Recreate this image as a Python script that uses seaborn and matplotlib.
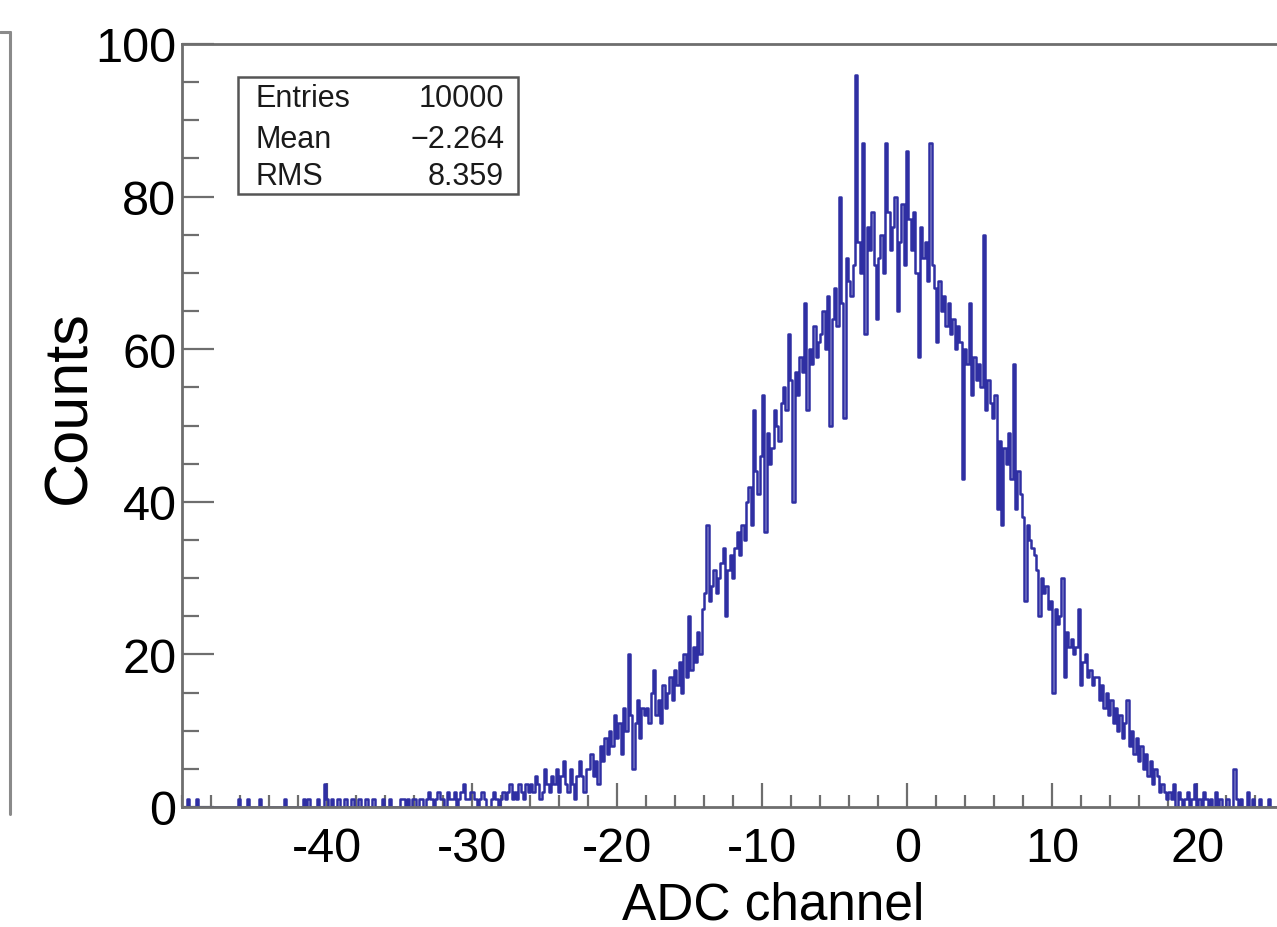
import numpy as np
import pandas as pd
import matplotlib
matplotlib.use("Agg")
import matplotlib.pyplot as plt
from matplotlib.lines import Line2D
from matplotlib.patches import Rectangle
from matplotlib.ticker import MultipleLocator, FixedLocator
import seaborn as sns

# histogram: 0.16-wide bins starting at -50, 25 bins per row (4 ADC units per row)
BIN_START = -50.0
BIN_WIDTH = 0.16
COUNTS_ROWS = [
    [0, 0, 1, 0, 0, 0, 1, 0, 0, 0, 0, 0, 0, 0, 0, 0, 0, 0, 0, 0, 0, 0, 0, 0, 1],      # -50..-46
    [0, 0, 0, 1, 0, 0, 0, 0, 1, 0, 0, 0, 0, 0, 0, 0, 0, 0, 0, 1, 0, 0, 0, 0, 0],      # -46..-42
    [0, 0, 1, 0, 1, 0, 0, 0, 1, 0, 0, 3, 1, 0, 1, 0, 0, 1, 0, 0, 1, 0, 0, 1, 0],      # -42..-38
    [0, 1, 0, 0, 1, 0, 0, 1, 0, 0, 0, 1, 0, 0, 1, 0, 0, 0, 0, 1, 1, 0, 1, 0, 1],      # -38..-34
    [1, 0, 1, 1, 0, 1, 2, 1, 0, 1, 2, 1, 1, 0, 2, 1, 1, 2, 0, 1, 2, 3, 1, 1, 2],      # -34..-30
    [2, 1, 0, 1, 2, 1, 0, 0, 1, 2, 1, 0, 1, 2, 1, 2, 3, 1, 2, 1, 3, 2, 1, 3, 2],      # -30..-26
    [3, 2, 4, 3, 1, 2, 5, 3, 2, 4, 3, 5, 2, 4, 6, 3, 2, 5, 3, 1, 4, 6, 4, 2, 5],      # -26..-22
    [5, 7, 4, 6, 3, 8, 6, 9, 7, 10, 8, 12, 9, 11, 7, 13, 10, 20, 12, 5, 11, 14, 9, 13, 12],  # -22..-18
    [13, 11, 15, 18, 12, 14, 11, 16, 13, 15, 17, 14, 18, 16, 19, 15, 20, 17, 25, 18, 21, 19, 23, 20, 26],  # -18..-14
    [28, 37, 27, 29, 31, 28, 30, 32, 34, 25, 31, 33, 30, 34, 36, 33, 37, 35, 40, 42, 37, 52, 44, 41, 46],  # -14..-10
    [54, 36, 49, 45, 47, 52, 50, 48, 53, 55, 52, 62, 56, 40, 57, 54, 59, 57, 66, 52, 60, 58, 63, 59, 61],  # -10..-6
    [62, 65, 60, 67, 50, 64, 68, 63, 80, 66, 51, 72, 69, 67, 71, 96, 74, 70, 87, 62, 76, 73, 78, 71, 64],  # -6..-2
    [72, 75, 70, 87, 78, 73, 76, 80, 65, 74, 79, 71, 86, 77, 73, 78, 70, 59, 76, 72, 74, 69, 87, 71, 68],  # -2..2
    [61, 69, 65, 67, 63, 66, 62, 64, 60, 63, 61, 43, 60, 58, 66, 54, 59, 56, 58, 55, 75, 52, 56, 53, 51],  # 2..6
    [54, 39, 48, 37, 47, 45, 49, 43, 58, 39, 44, 41, 38, 27, 37, 35, 34, 33, 31, 25, 30, 28, 29, 26, 27],  # 6..10
    [15, 26, 24, 25, 30, 17, 23, 21, 22, 20, 21, 26, 16, 19, 20, 17, 18, 16, 17, 17, 14, 16, 13, 15, 12],  # 10..14
    [14, 11, 13, 10, 12, 9, 11, 14, 8, 10, 7, 9, 6, 8, 5, 7, 4, 6, 3, 5, 4, 2, 3, 2, 1],  # 14..18
    [2, 1, 3, 0, 2, 1, 0, 1, 2, 0, 1, 3, 0, 1, 0, 2, 1, 0, 1, 0, 2, 0, 1, 0, 0],      # 18..22
    [1, 0, 0, 5, 1, 0, 1, 0, 0, 2, 0, 1, 0, 0, 1, 0, 0, 0, 1, 0, 0, 0, 0, 0, 0],      # 22..26
]

STATS_LABELS = ["Entries", "Mean", "RMS"]
STATS_VALUES = ["10000", "\u22122.264", "8.359"]

X_TICKS = [-40, -30, -20, -10, 0, 10, 20]
Y_TICKS = [0, 20, 40, 60, 80, 100]

counts = np.array([c for row in COUNTS_ROWS for c in row], dtype=float)
n_bins = len(counts)
centers = BIN_START + BIN_WIDTH * (np.arange(n_bins) + 0.5)
df = pd.DataFrame({"adc": centers, "counts": counts})

sns.set_style("white")
plt.rcParams["font.family"] = ["Liberation Sans", "DejaVu Sans"]
plt.rcParams["text.color"] = "black"
plt.rcParams["xtick.labelcolor"] = "black"
plt.rcParams["ytick.labelcolor"] = "black"
plt.rcParams["axes.labelcolor"] = "black"

W, H = 1277, 928
fig = plt.figure(figsize=(W / 100, H / 100), dpi=100)
ax = fig.add_axes([182 / W, (H - 808) / H, (W - 182) / W, (808 - 45) / H])

sns.histplot(data=df, x="adc", weights="counts", binwidth=BIN_WIDTH,
             binrange=(BIN_START, BIN_START + BIN_WIDTH * n_bins),
             element="step", fill=False, color="#2f2fa3", linewidth=1.8, ax=ax)

ax.set_xlim(-50, 25.5)
ax.set_ylim(0, 100)

frame_col = "#6e6e6e"
for side in ("left", "bottom", "top"):
    ax.spines[side].set_visible(True)
    ax.spines[side].set_color(frame_col)
    ax.spines[side].set_linewidth(2)
ax.spines["right"].set_visible(False)

ax.xaxis.set_major_locator(FixedLocator(X_TICKS))
ax.xaxis.set_minor_locator(MultipleLocator(2))
ax.yaxis.set_major_locator(FixedLocator(Y_TICKS))
ax.yaxis.set_minor_locator(MultipleLocator(5))
ax.set_xticklabels([str(t) for t in X_TICKS])
ax.set_yticklabels([str(t) for t in Y_TICKS])

ax.tick_params(axis="x", which="major", direction="in", length=17, width=1.6,
               color=frame_col, labelsize=35, pad=14, top=False, bottom=True,
               labelcolor="black")
ax.tick_params(axis="x", which="minor", direction="in", length=9, width=1.6,
               color=frame_col, top=False, bottom=True)
ax.tick_params(axis="y", which="major", direction="in", length=23, width=1.6,
               color=frame_col, labelsize=35, pad=4, right=False, left=True,
               labelcolor="black")
ax.tick_params(axis="y", which="minor", direction="in", length=12, width=1.6,
               color=frame_col, right=False, left=True)

ax.set_xlabel("ADC channel", fontsize=37, color="black")
ax.set_ylabel("Counts", fontsize=44, color="black")
ax.xaxis.set_label_coords((773 - 182) / (W - 182), -0.096)
ax.yaxis.set_label_coords(-0.076, 0.525)

# stats box
bx0, by0, bx1, by1 = 238, 78, 518, 195
fig.add_artist(Rectangle((bx0 / W, 1 - by1 / H), (bx1 - bx0) / W, (by1 - by0) / H,
                         transform=fig.transFigure, fill=True, facecolor="white",
                         edgecolor="#555555", linewidth=1.8, zorder=5))
row_y = [99, 140, 177]
for lab, val, yy in zip(STATS_LABELS, STATS_VALUES, row_y):
    fig.text(255 / W, 1 - yy / H, lab, fontsize=22, ha="left", va="center", zorder=6, color="#1a1a1a")
    fig.text(504 / W, 1 - yy / H, val, fontsize=22, ha="right", va="center", zorder=6, color="#1a1a1a")

# edge of neighbouring pad on the left
fig.add_artist(Line2D([10 / W, 10 / W], [1 - 33 / H, 1 - 815 / H], transform=fig.transFigure,
                      color="#8a8a8a", linewidth=2.2))
fig.add_artist(Line2D([0, 10 / W], [1 - 33 / H, 1 - 33 / H], transform=fig.transFigure,
                      color="#8a8a8a", linewidth=2.2))

fig.savefig("out.png", dpi=100, facecolor="white")
